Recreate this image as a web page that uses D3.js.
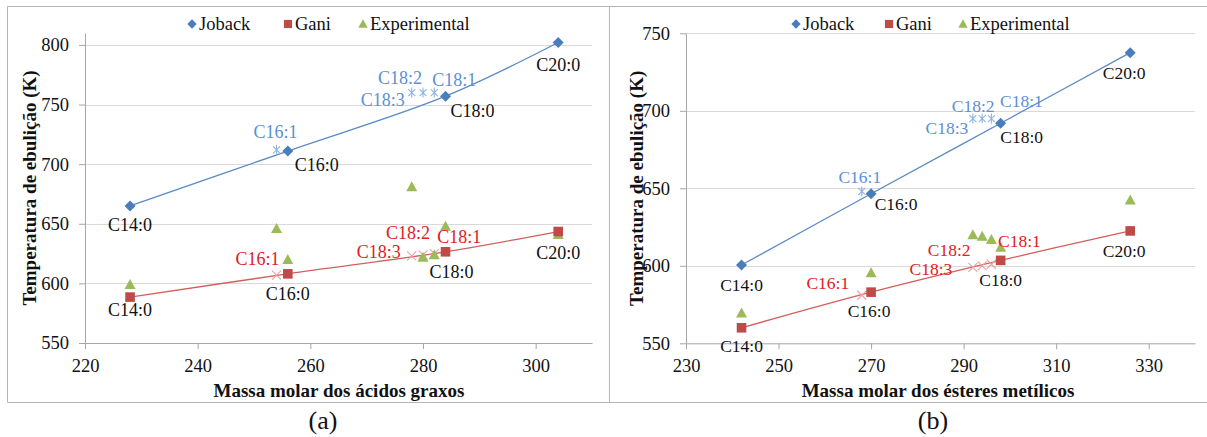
<!DOCTYPE html>
<html>
<head>
<meta charset="utf-8">
<script src="https://cdn.jsdelivr.net/npm/d3@7"></script>
<style>
  body { margin: 0; background: #fff; }
  svg text { font-family: "Liberation Serif", "Times New Roman", serif; }
</style>
</head>
<body>
<div id="chart-area"></div>
<script>
// series shown in both legends
const seriesNames = ["Joback", "Gani", "Experimental"];

// (a) fatty acids
const acidSatNames = ["C14:0", "C16:0", "C18:0", "C20:0"];
const acidSatMass = [228, 256, 284, 304];
const acidJobackSat = [665, 711, 757, 802];
const acidGaniSat = [588.5, 608, 626.5, 643.5];
const acidUnsatNames = ["C16:1", "C18:3", "C18:2", "C18:1"];
const acidUnsatMass = [254, 278, 280, 282];
const acidJobackUnsat = [712, 760, 760, 760];
const acidGaniUnsat = [607, 623, 624, 625];
const acidExpMass = [228, 254, 256, 278, 280, 282, 284, 304];
const acidExp = [599, 646, 620, 681, 622, 624, 648, 641];
const acidXTicks = [220, 240, 260, 280, 300];
const acidYTicks = [550, 600, 650, 700, 750, 800];

// (b) methyl esters
const esterSatNames = ["C14:0", "C16:0", "C18:0", "C20:0"];
const esterSatMass = [242, 270, 298, 326];
const esterJobackSat = [600.5, 646.5, 692, 737.5];
const esterGaniSat = [560, 583, 603.5, 622.5];
const esterUnsatNames = ["C16:1", "C18:3", "C18:2", "C18:1"];
const esterUnsatMass = [268, 292, 294, 296];
const esterJobackUnsat = [648, 695, 695, 695];
const esterGaniUnsat = [581, 599, 600, 601];
const esterExpMass = [242, 270, 292, 294, 296, 298, 326];
const esterExp = [569.5, 595.5, 620, 619, 617, 612, 642.5];
const esterXTicks = [230, 250, 270, 290, 310, 330];
const esterYTicks = [550, 600, 650, 700, 750];

const colors = {
  joback: "#4a7ebb",
  jobackLine: "#5a8ac6",
  jobackLight: "#8eb4e3",
  jobackLabel: "#5b8fd6",
  gani: "#be4b48",
  ganiLine: "#d0605d",
  ganiLight: "#e6a3a2",
  ganiLabel: "#e02020",
  exp: "#9bbb59"
};

const width = 1207;
const height = 437;

const svg = d3.select("#chart-area")
  .append("svg")
  .attr("width", width)
  .attr("height", height);

svg.append("rect")
  .attr("width", width)
  .attr("height", height)
  .attr("fill", "white");

// outer frame shared by both panels
const frame = svg.append("g")
  .attr("stroke", "#b5b5b5")
  .attr("fill", "none");
frame.append("path").attr("d", `M${width},6.5H7.5V402.5H${width}`);
frame.append("path").attr("d", "M609.5,6.5V402.5");

const zip = (xs, ys, names) => xs.map((m, i) => ({ m: m, t: ys[i], name: names ? names[i] : null }));

const panels = [
  {
    left: 85, right: 592, top: 33, bottom: 343,
    xDomain: [220, 310], yDomain: [550, 810],
    xTicks: acidXTicks, yTicks: acidYTicks,
    jobackSat: zip(acidSatMass, acidJobackSat, acidSatNames),
    ganiSat: zip(acidSatMass, acidGaniSat, acidSatNames),
    jobackUnsat: zip(acidUnsatMass, acidJobackUnsat, acidUnsatNames),
    ganiUnsat: zip(acidUnsatMass, acidGaniUnsat, acidUnsatNames),
    exp: zip(acidExpMass, acidExp),
    jobackSatOff: [[0, 19], [29, 14], [27, 15], [0, 22]],
    jobackUnsatOff: [[-1, -18], [-29, 7], [-23, -15], [20, -13]],
    ganiSatOff: [[0, 13], [0, 20], [6, 20], [0, 21]],
    ganiUnsatOff: [[-19, -16], [-33, -4], [-15, -22], [25, -17]],
    labelSize: 18,
    xTitle: "Massa molar dos ácidos graxos", xTitleX: 339,
    yTitleX: 36,
    tag: "(a)", tagX: 323,
    legendText: [199, 295, 370]
  },
  {
    left: 686, right: 1195, top: 33.3, bottom: 343.3,
    xDomain: [230, 340], yDomain: [550, 750],
    xTicks: esterXTicks, yTicks: esterYTicks,
    jobackSat: zip(esterSatMass, esterJobackSat, esterSatNames),
    ganiSat: zip(esterSatMass, esterGaniSat, esterSatNames),
    jobackUnsat: zip(esterUnsatMass, esterJobackUnsat, esterUnsatNames),
    ganiUnsat: zip(esterUnsatMass, esterGaniUnsat, esterUnsatNames),
    exp: zip(esterExpMass, esterExp),
    jobackSatOff: [[0, 20], [25, 10], [21, 14], [-6, 20]],
    jobackUnsatOff: [[-2, -15], [-26, 9], [-9, -13], [30, -18]],
    ganiSatOff: [[0, 18], [-2, 19], [0, 19], [-6, 20]],
    ganiUnsatOff: [[-34, -12], [-42, 2], [-33, -16], [28, -23]],
    labelSize: 17.5,
    xTitle: "Massa molar dos ésteres metílicos", xTitleX: 938,
    yTitleX: 643,
    tag: "(b)", tagX: 933,
    legendText: [803, 896, 970]
  }
];

// marker shapes
const diamondPath = "M0,-5.5L5.5,0L0,5.5L-5.5,0Z";
const squarePath = "M-4.8,-4.8H4.8V4.8H-4.8Z";
const trianglePath = "M0,-5.5L5.5,4.5L-5.5,4.5Z";
const starPath = "M-3.5,-3.5L3.5,3.5M-3.5,3.5L3.5,-3.5M0,-5V5";
const crossPath = "M-4.5,-4.5L4.5,4.5M-4.5,4.5L4.5,-4.5";

panels.forEach(drawPanel);

function drawPanel(p) {
  const x = d3.scaleLinear().domain(p.xDomain).range([p.left, p.right]);
  const y = d3.scaleLinear().domain(p.yDomain).range([p.bottom, p.top]);

  // horizontal gridlines
  svg.append("g")
    .selectAll("line")
    .data(p.yTicks.filter(d => d > p.yDomain[0]))
    .join("line")
    .attr("x1", p.left)
    .attr("x2", p.right)
    .attr("y1", d => Math.round(y(d)) + 0.5)
    .attr("y2", d => Math.round(y(d)) + 0.5)
    .attr("stroke", "#d9d9d9");

  const xAxisGroup = svg.append("g")
    .attr("transform", `translate(0, ${p.bottom})`)
    .call(d3.axisBottom(x).tickValues(p.xTicks).tickSize(6).tickSizeOuter(0).tickPadding(10));

  const yAxisGroup = svg.append("g")
    .attr("transform", `translate(${p.left}, 0)`)
    .call(d3.axisLeft(y).tickValues(p.yTicks).tickSize(6).tickSizeOuter(0).tickPadding(10));

  [xAxisGroup, yAxisGroup].forEach(a => {
    a.attr("font-family", null).attr("font-size", null);
    a.selectAll("path, line").attr("stroke", "#a6a6a6");
    a.selectAll("text").attr("fill", "#111").attr("font-size", "18.5px");
  });

  // axis titles
  svg.append("text")
    .attr("x", p.xTitleX)
    .attr("y", 397)
    .attr("text-anchor", "middle")
    .attr("font-weight", "bold")
    .attr("font-size", "19px")
    .attr("fill", "#111")
    .text(p.xTitle);

  svg.append("text")
    .attr("transform", `translate(${p.yTitleX}, ${(p.top + p.bottom) / 2}) rotate(-90)`)
    .attr("text-anchor", "middle")
    .attr("font-weight", "bold")
    .attr("font-size", "19px")
    .attr("fill", "#111")
    .text("Temperatura de ebulição (K)");

  svg.append("text")
    .attr("x", p.tagX)
    .attr("y", 429)
    .attr("text-anchor", "middle")
    .attr("font-size", "26px")
    .attr("fill", "#111")
    .text(p.tag);

  // smoothed lines through the saturated points
  const line = d3.line()
    .x(d => x(d.m))
    .y(d => y(d.t))
    .curve(d3.curveCatmullRom.alpha(0.5));

  svg.append("path")
    .datum(p.jobackSat)
    .attr("d", line)
    .attr("fill", "none")
    .attr("stroke", colors.jobackLine)
    .attr("stroke-width", 1.3);

  svg.append("path")
    .datum(p.ganiSat)
    .attr("d", line)
    .attr("fill", "none")
    .attr("stroke", colors.ganiLine)
    .attr("stroke-width", 1.3);

  // unsaturated markers
  svg.append("g")
    .selectAll("path")
    .data(p.jobackUnsat)
    .join("path")
    .attr("transform", d => `translate(${x(d.m)}, ${y(d.t)})`)
    .attr("d", starPath)
    .attr("fill", "none")
    .attr("stroke", colors.jobackLight)
    .attr("stroke-width", 1.1);

  svg.append("g")
    .selectAll("path")
    .data(p.ganiUnsat)
    .join("path")
    .attr("transform", d => `translate(${x(d.m)}, ${y(d.t)})`)
    .attr("d", crossPath)
    .attr("fill", "none")
    .attr("stroke", colors.ganiLight)
    .attr("stroke-width", 1.1);

  // experimental
  svg.append("g")
    .selectAll("path")
    .data(p.exp)
    .join("path")
    .attr("transform", d => `translate(${x(d.m)}, ${y(d.t)})`)
    .attr("d", trianglePath)
    .attr("fill", colors.exp);

  // saturated markers
  svg.append("g")
    .selectAll("path")
    .data(p.ganiSat)
    .join("path")
    .attr("transform", d => `translate(${x(d.m)}, ${y(d.t)})`)
    .attr("d", squarePath)
    .attr("fill", colors.gani);

  svg.append("g")
    .selectAll("path")
    .data(p.jobackSat)
    .join("path")
    .attr("transform", d => `translate(${x(d.m)}, ${y(d.t)})`)
    .attr("d", diamondPath)
    .attr("fill", colors.joback);

  // point labels
  const labelSets = [
    [p.jobackSat, p.jobackSatOff, "#111"],
    [p.ganiSat, p.ganiSatOff, "#111"],
    [p.jobackUnsat, p.jobackUnsatOff, colors.jobackLabel],
    [p.ganiUnsat, p.ganiUnsatOff, colors.ganiLabel]
  ];

  labelSets.forEach(([pts, offs, col]) => {
    svg.append("g")
      .selectAll("text")
      .data(pts)
      .join("text")
      .attr("x", (d, i) => x(d.m) + offs[i][0])
      .attr("y", (d, i) => y(d.t) + offs[i][1])
      .attr("dy", "0.35em")
      .attr("text-anchor", "middle")
      .attr("font-size", p.labelSize + "px")
      .attr("fill", col)
      .text(d => d.name);
  });

  // legend
  const legendShapes = [diamondPath, squarePath, trianglePath];
  const legendColors = [colors.joback, colors.gani, colors.exp];
  seriesNames.forEach((name, i) => {
    const tx = p.legendText[i];
    svg.append("path")
      .attr("transform", `translate(${tx - 7}, 24) scale(0.85)`)
      .attr("d", legendShapes[i])
      .attr("fill", legendColors[i]);
    svg.append("text")
      .attr("x", tx)
      .attr("y", 24)
      .attr("dy", "0.35em")
      .attr("font-size", "18.5px")
      .attr("fill", "#111")
      .text(name);
  });
}
</script>
</body>
</html>
